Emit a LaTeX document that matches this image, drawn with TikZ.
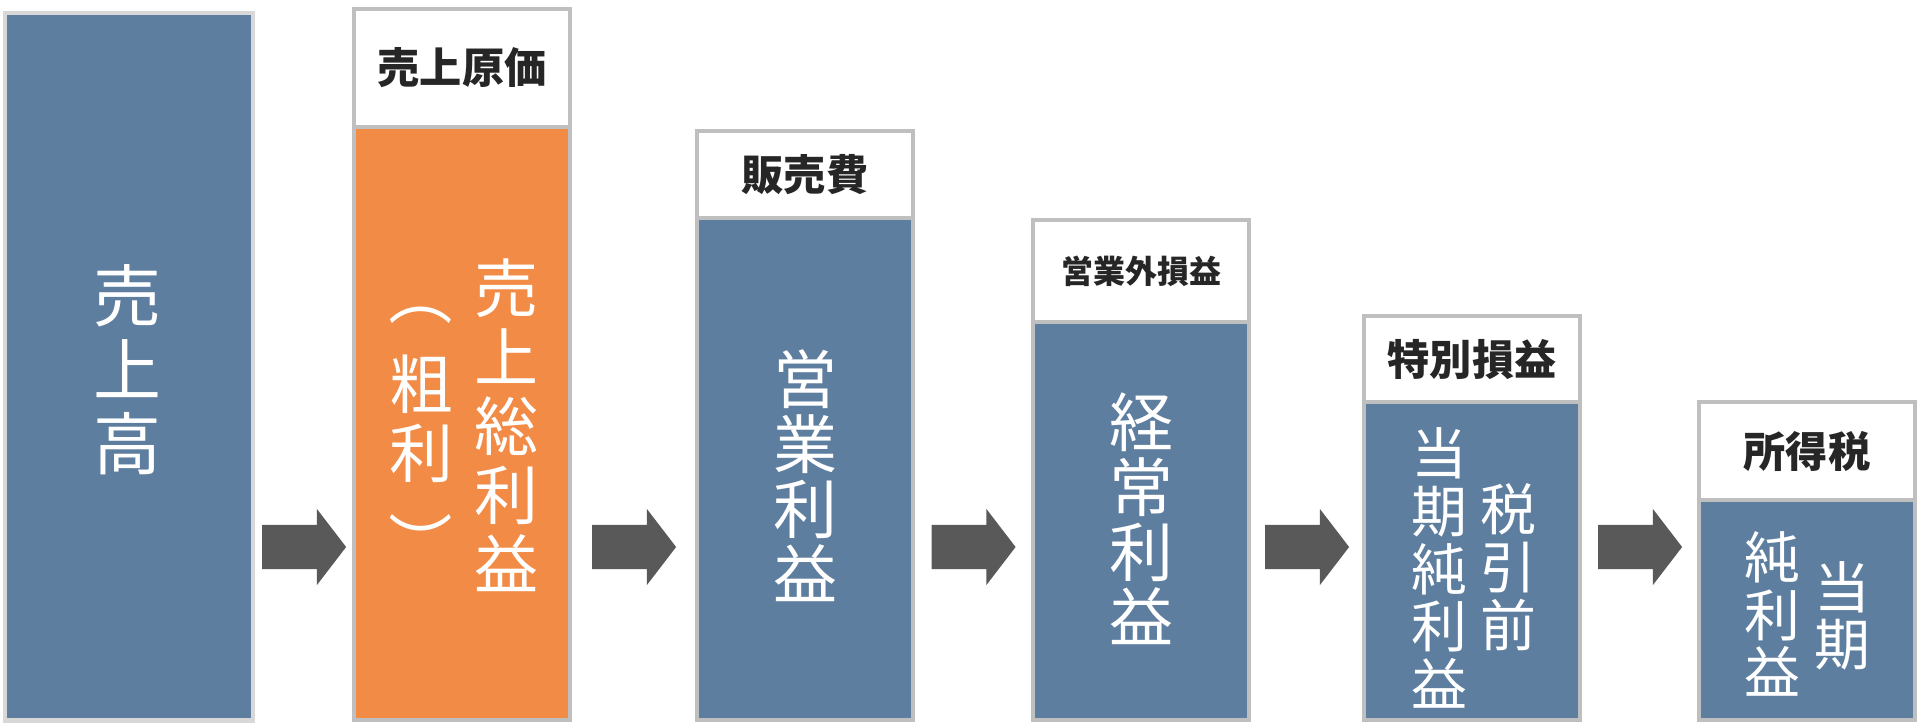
\documentclass[tikz,border=0pt]{standalone}
\usepackage{fontspec}
\usepackage{graphicx}
\newfontfamily\jpfont{Noto Sans CJK JP}
\usetikzlibrary{positioning,shapes.arrows}

\definecolor{barblue}{RGB}{94,126,160}
\definecolor{barorange}{RGB}{242,139,70}
\definecolor{edgegray}{RGB}{191,191,191}
\definecolor{edgelight}{RGB}{216,216,216}
\definecolor{arrowgray}{RGB}{89,89,89}
\definecolor{headtext}{RGB}{38,38,38}

% vertical brackets
\newcommand{\vopen}{\raisebox{4pt}{\rotatebox[origin=c]{-90}{（}}}
\newcommand{\vclose}{\raisebox{-4pt}{\rotatebox[origin=c]{-90}{）}}}

\begin{document}
\begin{tikzpicture}[x=0.01cm,y=-0.01cm,
    head/.style={draw=edgegray,line width=1.1pt,fill=white,outer sep=0pt,inner sep=0pt,
        minimum width=2.16cm,anchor=north west,text=headtext,
        font=\jpfont\bfseries\fontsize{12}{14}\selectfont},
    body/.style={draw=edgegray,line width=1.1pt,fill=barblue,outer sep=0pt,
        inner sep=0pt,minimum width=2.16cm,anchor=north},
    label/.style={text=white,align=center,inner sep=0pt,
        font=\jpfont\fontsize{18.2}{18.5}\selectfont},
    wide/.style={font=\jpfont\fontsize{18.2}{19.6}\selectfont},
    small/.style={font=\jpfont\fontsize{15.9}{16.4}\selectfont},
    flow/.style={single arrow,fill=arrowgray,draw=none,inner xsep=0pt,inner ysep=0.215cm,
        minimum height=0.84cm,single arrow head extend=0.16cm,single arrow tip angle=105,
        xshift=-0.08cm}]

    \useasboundingbox (0,0) rectangle (1920,724);

    % BOX 1
    \node[body,anchor=north west,draw=edgelight,line width=1.3pt,
        minimum width=2.48cm,minimum height=7.07cm] (b1) at (5,13) {};
    \node[label,font=\jpfont\fontsize{19.3}{21}\selectfont] (t1) at (127,370) {売\\上\\高};

    % BOX 2
    \node[head,minimum height=1.18cm] (h2) at (354,9) {売上原価};
    \node[body,fill=barorange,minimum height=5.93cm,below=0pt of h2] (b2) {};
    \node[label,wide] (t2) at (506,425) {売\\上\\総\\利\\益};
    \node[label,wide] (t2b) at (421,419) {\vopen\\[2pt]粗\\利\\[2pt]\vclose};

    % BOX 3
    \node[head,minimum height=0.87cm] (h3) at (697,131) {販売費};
    \node[body,minimum height=5.02cm,below=0pt of h3] (b3) {};
    \node[label] (t3) at (805,476) {営\\業\\利\\益};

    % BOX 4
    \node[head,minimum height=1.02cm,
        font=\jpfont\bfseries\fontsize{9.1}{11}\selectfont] (h4) at (1033,220) {営業外損益};
    \node[body,minimum height=3.98cm,below=0pt of h4] (b4) {};
    \node[label] (t4) at (1141,519) {経\\常\\利\\益};

    % BOX 5
    \node[head,minimum height=0.86cm] (h5) at (1364,316) {特別損益};
    \node[body,minimum height=3.18cm,below=0pt of h5] (b5) {};
    \node[label,small] (t5) at (1439,568) {当\\期\\純\\利\\益};
    \node[label,small] (t5b) at (1508,567) {税\\引\\前};

    % BOX 6
    \node[head,minimum height=0.98cm] (h6) at (1699,402) {所得税};
    \node[body,minimum height=2.20cm,below=0pt of h6] (b6) {};
    \node[label,small] (t6) at (1772,614) {純\\利\\益};
    \node[label,small] (t6b) at (1842,616) {当\\期};

    % ARROWS
    \foreach \from/\to/\n in {b1/b2/1,b2/b3/2,b3/b4/3,b4/b5/4,b5/b6/5}
        \path (\from.east |- 0,547) to node[flow] (a\n) {} (\to.west |- 0,547);

\end{tikzpicture}
\end{document}
